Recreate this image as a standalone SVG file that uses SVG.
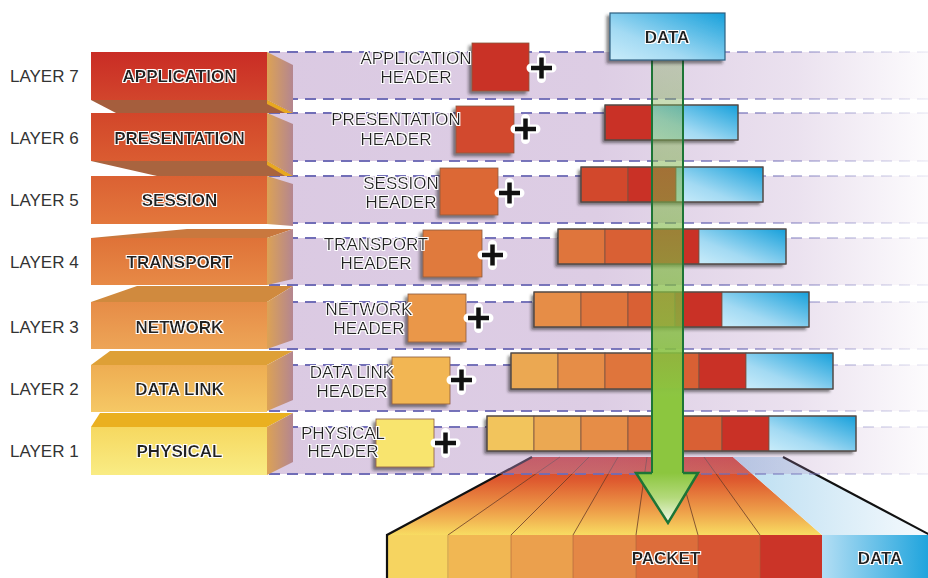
<svg xmlns="http://www.w3.org/2000/svg" width="928" height="578" viewBox="0 0 928 578">
<defs>
<style>
text{font-family:"Liberation Sans",Arial,sans-serif;}
.lay{font-size:17px;fill:#333;}
.lbl{font-size:17px;fill:#222;text-anchor:middle;filter:url(#halo);}
.b{font-weight:bold;}
.band{fill:url(#bandG);}
.dash{stroke:url(#dashG);stroke-width:2;stroke-dasharray:11 7;fill:none;}
.side{fill:url(#sideG);}
.seg{stroke:#7a5040;stroke-width:0.8;}
.row{fill:none;stroke:#4a4a4a;stroke-width:1.2;}
.hb{stroke:#8a5a40;stroke-width:0.8;}
.plus{stroke:#111;stroke-width:4.5;fill:none;}
.plush{stroke:#fff;stroke-width:9;fill:none;stroke-linecap:round;}
.pl{stroke:#6b3c28;stroke-width:0.8;fill:none;}
.cAPP{fill:#c93126;}
.cPRES{fill:#d2482c;}
.cSESS{fill:#d96034;}
.cTRANS{fill:#df753c;}
.cNET{fill:#e68d47;}
.cDL{fill:#eba852;}
</style>
<filter id="halo" x="-10%" y="-30%" width="120%" height="160%">
<feMorphology in="SourceAlpha" operator="dilate" radius="1.1" result="d"/>
<feFlood flood-color="#ffffff"/>
<feComposite in2="d" operator="in" result="w"/>
<feMerge><feMergeNode in="w"/><feMergeNode in="SourceGraphic"/></feMerge>
</filter>
<linearGradient id="bandG" gradientUnits="userSpaceOnUse" x1="267" y1="0" x2="928" y2="0">
<stop offset="0" stop-color="#ae88bf" stop-opacity="0.45"/>
<stop offset="0.5" stop-color="#ae88bf" stop-opacity="0.42"/>
<stop offset="0.8" stop-color="#ae88bf" stop-opacity="0.25"/>
<stop offset="1" stop-color="#ae88bf" stop-opacity="0.03"/>
</linearGradient>
<linearGradient id="dashG" gradientUnits="userSpaceOnUse" x1="267" y1="0" x2="928" y2="0">
<stop offset="0" stop-color="#6f6cb6" stop-opacity="1"/>
<stop offset="0.55" stop-color="#6f6cb6" stop-opacity="0.9"/>
<stop offset="0.85" stop-color="#6f6cb6" stop-opacity="0.35"/>
<stop offset="1" stop-color="#6f6cb6" stop-opacity="0.08"/>
</linearGradient>
<linearGradient id="sideG" x1="0" y1="0" x2="1" y2="0">
<stop offset="0" stop-color="#dca255"/>
<stop offset="1" stop-color="#b48690"/>
</linearGradient>
<linearGradient id="g7" x1="0" y1="0" x2="0" y2="1"><stop offset="0" stop-color="#c92c25"/><stop offset="1" stop-color="#d2452c"/></linearGradient>
<linearGradient id="g6" x1="0" y1="0" x2="0" y2="1"><stop offset="0" stop-color="#d2462a"/><stop offset="1" stop-color="#da5c31"/></linearGradient>
<linearGradient id="g5" x1="0" y1="0" x2="0" y2="1"><stop offset="0" stop-color="#db6133"/><stop offset="1" stop-color="#e3773c"/></linearGradient>
<linearGradient id="g4" x1="0" y1="0" x2="0" y2="1"><stop offset="0" stop-color="#df7238"/><stop offset="1" stop-color="#e78a46"/></linearGradient>
<linearGradient id="g3" x1="0" y1="0" x2="0" y2="1"><stop offset="0" stop-color="#e68c47"/><stop offset="1" stop-color="#eda557"/></linearGradient>
<linearGradient id="g2" x1="0" y1="0" x2="0" y2="1"><stop offset="0" stop-color="#eead52"/><stop offset="1" stop-color="#f5c865"/></linearGradient>
<linearGradient id="g1" x1="0" y1="0" x2="0" y2="1"><stop offset="0" stop-color="#f6d860"/><stop offset="1" stop-color="#f9ec84"/></linearGradient>
<linearGradient id="dataG" x1="0" y1="1" x2="1" y2="0">
<stop offset="0" stop-color="#c9ecfa"/>
<stop offset="0.35" stop-color="#a3daf3"/>
<stop offset="1" stop-color="#16a0db"/>
</linearGradient>
<linearGradient id="topG" gradientUnits="userSpaceOnUse" x1="0" y1="457" x2="0" y2="535">
<stop offset="0" stop-color="#d43c2c"/>
<stop offset="0.3" stop-color="#de5a2f"/>
<stop offset="0.7" stop-color="#eea04a"/>
<stop offset="1" stop-color="#f8dc62"/>
</linearGradient>
<linearGradient id="topD" gradientUnits="userSpaceOnUse" x1="733" y1="0" x2="930" y2="0">
<stop offset="0" stop-color="#b9ddf1"/>
<stop offset="1" stop-color="#f6fafd"/>
</linearGradient>
<linearGradient id="frontD" x1="0" y1="0" x2="1" y2="0">
<stop offset="0" stop-color="#b3def4"/>
<stop offset="1" stop-color="#1aa2dc"/>
</linearGradient>
<linearGradient id="shaftG" gradientUnits="userSpaceOnUse" x1="0" y1="60" x2="0" y2="473">
<stop offset="0" stop-color="#7aa850" stop-opacity="0.35"/>
<stop offset="0.35" stop-color="#7db544" stop-opacity="0.55"/>
<stop offset="0.65" stop-color="#84bd40" stop-opacity="0.8"/>
<stop offset="0.82" stop-color="#8cc63f" stop-opacity="1"/>
<stop offset="1" stop-color="#8cc63f" stop-opacity="1"/>
</linearGradient>
<linearGradient id="headG" x1="0" y1="0" x2="0" y2="1">
<stop offset="0" stop-color="#8cc63f"/>
<stop offset="0.5" stop-color="#b4da7c"/>
<stop offset="1" stop-color="#f4faec"/>
</linearGradient>
<filter id="sh" x="-20%" y="-30%" width="140%" height="170%">
<feDropShadow dx="-3" dy="3" stdDeviation="1.5" flood-color="#222" flood-opacity="0.55"/>
</filter>
</defs>

<rect width="928" height="578" fill="#fff"/>

<!-- bottom packet -->
<g id="packet">
<polygon points="387,535 822,535 733,457 532,457" fill="url(#topG)"/>
<polygon points="822,535 932,535 783,457 733,457" fill="url(#topD)"/>
<path class="pl" d="M448,535 L560,457 M511,535 L589,457 M573,535 L618,457 M636,535 L647,457 M698,535 L676,457 M760,535 L704,457"/>
<rect x="387" y="535" width="62" height="43" fill="#f6d460"/>
<rect x="449" y="535" width="62" height="43" fill="#f1b753"/>
<rect x="511" y="535" width="62" height="43" fill="#eba04d"/>
<rect x="573" y="535" width="63" height="43" fill="#e48746"/>
<rect x="636" y="535" width="62" height="43" fill="#dd6d3b"/>
<rect x="698" y="535" width="62" height="43" fill="#d75532"/>
<rect x="760" y="535" width="62" height="43" fill="#cb3428"/>
<rect x="822" y="535" width="110" height="43" fill="url(#frontD)"/>
<path d="M448,535 V578 M511,535 V578 M573,535 V578 M636,535 V578 M698,535 V578 M760,535 V578" stroke="#a5603a" stroke-width="0.8" opacity="0.7"/>
<path d="M387,578 L387,535 L532,457" fill="none" stroke="#111" stroke-width="2.2"/>
<path d="M783,457 L932,536" fill="none" stroke="#111" stroke-width="2.2"/>
<text class="lbl b" x="666" y="564">PACKET</text>
<text class="lbl b" x="880" y="564">DATA</text>
</g>

<!-- bands -->
<g id="bands">
<rect class="band" x="267" y="52" width="661" height="47"/>
<rect class="band" x="267" y="113" width="661" height="48"/>
<rect class="band" x="267" y="176" width="661" height="47"/>
<rect class="band" x="267" y="238" width="661" height="47"/>
<rect class="band" x="267" y="302" width="661" height="47"/>
<rect class="band" x="267" y="365" width="661" height="46"/>
<rect class="band" x="267" y="427" width="661" height="47"/>
<path class="dash" d="M269,52H928M269,99H928M269,113H928M269,161H928M269,176H928M269,223H928M269,238H928M269,285H928M269,302H928M269,349H928M269,365H928M269,411H928M269,427H928M269,474H928"/>
</g>

<!-- layer boxes -->
<g id="layer7">
<polygon points="91,100 267,100 293,113 116,113" fill="#a55e3d"/>
<polygon points="267,100 293,113 285,113 267,104" fill="#e8a820"/>
<polygon class="side" points="267,52 293,65 293,113 267,100"/>
<rect x="91" y="52" width="176" height="48" fill="url(#g7)"/>
<text class="lay" x="10" y="82">LAYER 7</text>
<text class="lbl b" x="179.5" y="82">APPLICATION</text>
</g>
<g id="layer6">
<polygon points="91,161 267,161 293,176 157,176" fill="#a9643f"/>
<polygon points="267,161 293,176 285,176 267,165" fill="#e8a820"/>
<polygon class="side" points="267,113 293,124 293,176 267,161"/>
<rect x="91" y="113" width="176" height="48" fill="url(#g6)"/>
<text class="lay" x="10" y="144">LAYER 6</text>
<text class="lbl b" x="179.5" y="144">PRESENTATION</text>
</g>
<g id="layer5">
<polygon class="side" points="267,176 293,184 293,226 267,224"/>
<rect x="91" y="176" width="176" height="48" fill="url(#g5)"/>
<text class="lay" x="10" y="206">LAYER 5</text>
<text class="lbl b" x="179.5" y="206">SESSION</text>
</g>
<g id="layer4">
<polygon points="91,238 267,238 293,229 187,229" fill="#c9783e"/>
<polygon class="side" points="267,238 293,229 293,279 267,285"/>
<rect x="91" y="238" width="176" height="47" fill="url(#g4)"/>
<text class="lay" x="10" y="268">LAYER 4</text>
<text class="lbl b" x="179.5" y="268">TRANSPORT</text>
</g>
<g id="layer3">
<polygon points="91,302 267,302 293,286 137,286" fill="#d08a3e"/>
<polygon class="side" points="267,302 293,286 293,340 267,349"/>
<rect x="91" y="302" width="176" height="47" fill="url(#g3)"/>
<text class="lay" x="10" y="333">LAYER 3</text>
<text class="lbl b" x="179.5" y="333">NETWORK</text>
</g>
<g id="layer2">
<polygon points="91,365 267,365 293,351 110,351" fill="#dea036"/>
<polygon class="side" points="267,365 293,351 293,400 267,411"/>
<rect x="91" y="365" width="176" height="47" fill="url(#g2)"/>
<text class="lay" x="10" y="395">LAYER 2</text>
<text class="lbl b" x="179.5" y="395">DATA LINK</text>
</g>
<g id="layer1">
<polygon points="91,427 267,427 293,413 100,413" fill="#eab020"/>
<polygon class="side" points="267,427 293,413 293,462 267,475"/>
<rect x="91" y="427" width="176" height="48" fill="url(#g1)"/>
<text class="lay" x="10" y="457">LAYER 1</text>
<text class="lbl b" x="179.5" y="457">PHYSICAL</text>
</g>

<!-- headers -->
<g id="hdr-app">
<rect class="hb" x="472" y="43" width="57" height="48" fill="#c93126" filter="url(#sh)"/>
<text class="lbl" x="416" y="64">APPLICATION</text>
<text class="lbl" x="416" y="83">HEADER</text>
<path class="plush" d="M531,68h21M541.5,57.5v21"/><path class="plus" d="M531,68h21M541.5,57.5v21"/>
</g>
<g id="hdr-pres">
<rect class="hb" x="456" y="106" width="58" height="47" fill="#d24a2d" filter="url(#sh)"/>
<text class="lbl" x="396" y="125">PRESENTATION</text>
<text class="lbl" x="396" y="145">HEADER</text>
<path class="plush" d="M515,129h21M525.5,118.5v21"/><path class="plus" d="M515,129h21M525.5,118.5v21"/>
</g>
<g id="hdr-sess">
<rect class="hb" x="440" y="168" width="58" height="47" fill="#dc6836" filter="url(#sh)"/>
<text class="lbl" x="401" y="189">SESSION</text>
<text class="lbl" x="401" y="208">HEADER</text>
<path class="plush" d="M499,193h21M509.5,182.5v21"/><path class="plus" d="M499,193h21M509.5,182.5v21"/>
</g>
<g id="hdr-trans">
<rect class="hb" x="423" y="230" width="59" height="47" fill="#e07a3e" filter="url(#sh)"/>
<text class="lbl" x="376" y="250">TRANSPORT</text>
<text class="lbl" x="376" y="269">HEADER</text>
<path class="plush" d="M482,255h21M492.5,244.5v21"/><path class="plus" d="M482,255h21M492.5,244.5v21"/>
</g>
<g id="hdr-net">
<rect class="hb" x="408" y="294" width="58" height="48" fill="#ea974a" filter="url(#sh)"/>
<text class="lbl" x="369" y="315">NETWORK</text>
<text class="lbl" x="369" y="334">HEADER</text>
<path class="plush" d="M468,318h21M478.5,307.5v21"/><path class="plus" d="M468,318h21M478.5,307.5v21"/>
</g>
<g id="hdr-dl">
<rect class="hb" x="392" y="357" width="58" height="47" fill="#f2b653" filter="url(#sh)"/>
<text class="lbl" x="352" y="378">DATA LINK</text>
<text class="lbl" x="352" y="397">HEADER</text>
<path class="plush" d="M451,380h21M461.5,369.5v21"/><path class="plus" d="M451,380h21M461.5,369.5v21"/>
</g>
<g id="hdr-phys">
<rect class="hb" x="376" y="419" width="58" height="48" fill="#f8e46e" filter="url(#sh)"/>
<text class="lbl" x="343" y="439">PHYSICAL</text>
<text class="lbl" x="343" y="457">HEADER</text>
<path class="plush" d="M435,443h21M445.5,432.5v21"/><path class="plus" d="M435,443h21M445.5,432.5v21"/>
</g>

<!-- encapsulated rows -->
<g id="row6">
<rect x="605" y="105" width="133" height="35" fill="#fff" filter="url(#sh)"/>
<rect class="seg cAPP" x="605" y="105" width="47" height="35"/>
<rect class="seg" x="652" y="105" width="86" height="35" fill="url(#dataG)"/>
<rect class="row" x="605" y="105" width="133" height="35"/>
</g>
<g id="row5">
<rect x="581" y="167" width="182" height="35" fill="#fff" filter="url(#sh)"/>
<rect class="seg cPRES" x="581" y="167" width="47" height="35"/>
<rect class="seg cAPP" x="628" y="167" width="48" height="35"/>
<rect class="seg" x="676" y="167" width="87" height="35" fill="url(#dataG)"/>
<rect class="row" x="581" y="167" width="182" height="35"/>
</g>
<g id="row4">
<rect x="558" y="229" width="228" height="35" fill="#fff" filter="url(#sh)"/>
<rect class="seg cTRANS" x="558" y="229" width="47" height="35"/>
<rect class="seg cSESS" x="605" y="229" width="47" height="35"/>
<rect class="seg cAPP" x="652" y="229" width="47" height="35"/>
<rect class="seg" x="699" y="229" width="87" height="35" fill="url(#dataG)"/>
<rect class="row" x="558" y="229" width="228" height="35"/>
</g>
<g id="row3">
<rect x="534" y="292" width="275" height="35" fill="#fff" filter="url(#sh)"/>
<rect class="seg cNET" x="534" y="292" width="47" height="35"/>
<rect class="seg cTRANS" x="581" y="292" width="47" height="35"/>
<rect class="seg cSESS" x="628" y="292" width="47" height="35"/>
<rect class="seg cAPP" x="675" y="292" width="47" height="35"/>
<rect class="seg" x="722" y="292" width="87" height="35" fill="url(#dataG)"/>
<rect class="row" x="534" y="292" width="275" height="35"/>
</g>
<g id="row2">
<rect x="511" y="353" width="322" height="36" fill="#fff" filter="url(#sh)"/>
<rect class="seg cDL" x="511" y="353" width="47" height="36"/>
<rect class="seg cNET" x="558" y="353" width="47" height="36"/>
<rect class="seg cTRANS" x="605" y="353" width="47" height="36"/>
<rect class="seg cSESS" x="652" y="353" width="47" height="36"/>
<rect class="seg cAPP" x="699" y="353" width="47" height="36"/>
<rect class="seg" x="746" y="353" width="87" height="36" fill="url(#dataG)"/>
<rect class="row" x="511" y="353" width="322" height="36"/>
</g>
<g id="row1">
<rect x="487" y="416" width="369" height="35" fill="#fff" filter="url(#sh)"/>
<rect class="seg" x="487" y="416" width="47" height="35" fill="#f2c45c"/>
<rect class="seg cDL" x="534" y="416" width="47" height="35"/>
<rect class="seg cNET" x="581" y="416" width="47" height="35"/>
<rect class="seg cTRANS" x="628" y="416" width="47" height="35"/>
<rect class="seg cSESS" x="675" y="416" width="47" height="35"/>
<rect class="seg cAPP" x="722" y="416" width="47" height="35"/>
<rect class="seg" x="769" y="416" width="87" height="35" fill="url(#dataG)"/>
<rect class="row" x="487" y="416" width="369" height="35"/>
</g>

<!-- connector: green arrow -->
<g id="connectors">
<rect x="652" y="60" width="31" height="414" fill="url(#shaftG)"/>
<path d="M652,60V473M683,60V473" stroke="#1d7536" stroke-width="2" fill="none"/>
<polygon points="636,473 698,473 668,523" fill="url(#headG)"/>
<polyline points="652,473 636,473 668,523 698,473 683,473" fill="none" stroke="#1d7536" stroke-width="2.5" stroke-linejoin="miter"/>
</g>

<!-- top data -->
<g id="data-top">
<rect x="610" y="13" width="115" height="47" fill="url(#dataG)" stroke="#2d5f80" stroke-width="1.2" filter="url(#sh)"/>
<text class="lbl b" x="667" y="43">DATA</text>
</g>
</svg>
